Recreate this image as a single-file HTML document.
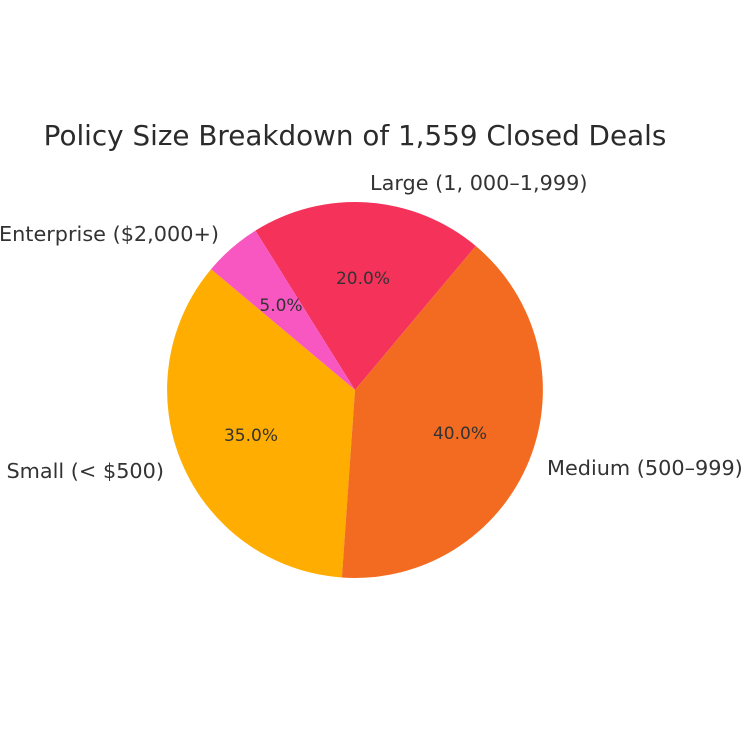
<!DOCTYPE html>
<html><head><style>body{margin:0;background:#fff}</style></head><body>
<svg width="750" height="750" xmlns="http://www.w3.org/2000/svg" font-family="DejaVu Sans, Liberation Sans, sans-serif" fill="#333">
<rect width="750" height="750" fill="#fff"/>
<path d="M355,390 L475.8,246 A188,188 0 0 0 255.4,230.6 Z" fill="#f5325a"/>
<path d="M355,390 L255.4,230.6 A188,188 0 0 0 211,269.2 Z" fill="#f857c1"/>
<path d="M355,390 L211,269.2 A188,188 0 0 0 341.9,577.5 Z" fill="#ffad00"/>
<path d="M355,390 L341.9,577.5 A188,188 0 0 0 475.8,246 Z" fill="#f36b20"/>
<text x="355" y="145" font-size="27.8" text-anchor="middle" fill="#2b2b2b">Policy Size Breakdown of 1,559 Closed Deals</text>
<text x="370" y="190" font-size="20.8">Large (1, 000–1,999)</text>
<text x="219" y="241" font-size="20.8" text-anchor="end">Enterprise ($2,000+)</text>
<text x="164" y="478" font-size="20.8" text-anchor="end">Small (&lt; $500)</text>
<text x="547" y="475" font-size="20.8">Medium (500–999)</text>
<g font-size="17" text-anchor="middle">
<text x="363" y="284">20.0%</text>
<text x="281" y="311">5.0%</text>
<text x="251" y="441">35.0%</text>
<text x="460" y="439">40.0%</text>
</g>
</svg>
</body></html>
